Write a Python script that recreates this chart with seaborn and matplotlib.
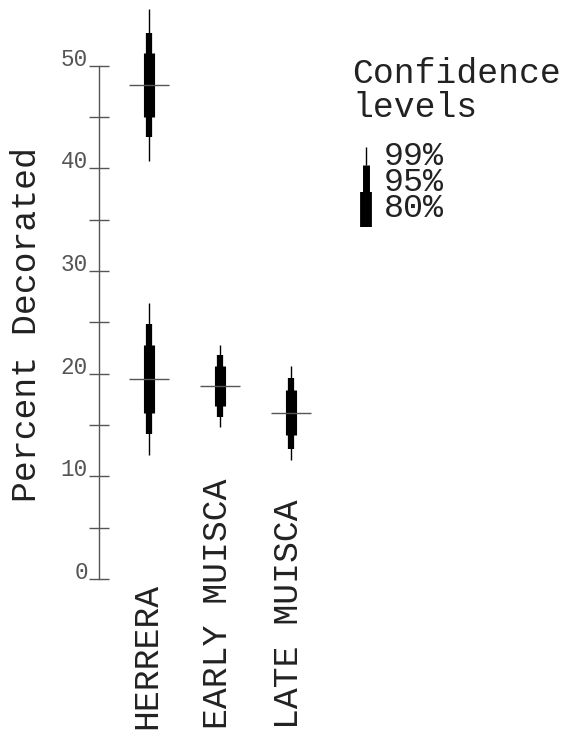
import matplotlib
matplotlib.use("Agg")
import matplotlib.pyplot as plt
import matplotlib.transforms as mtransforms
from matplotlib.lines import Line2D
import seaborn as sns
import pandas as pd

# data
categories = ["HERRERA", "EARLY MUISCA", "LATE MUISCA"]
groups = ["HERRERA", "HERRERA", "EARLY MUISCA", "LATE MUISCA"]
means = [48.1, 19.5, 18.8, 16.2]
lo99 = [40.7, 12.1, 14.8, 11.6]
hi99 = [55.5, 26.9, 22.8, 20.7]
lo95 = [43.0, 14.1, 15.8, 12.7]
hi95 = [53.2, 24.8, 21.8, 19.6]
lo80 = [45.0, 16.2, 16.8, 14.0]
hi80 = [51.2, 22.8, 20.7, 18.4]
ticks = [0, 5, 10, 15, 20, 25, 30, 35, 40, 45, 50]
tick_labels = ["0", "", "10", "", "20", "", "30", "", "40", "", "50"]
levels = ["99%", "95%", "80%"]

sns.set_style("white")
plt.rcParams["font.family"] = ["Liberation Mono", "DejaVu Sans Mono"]

W, H = 563, 734
fig = plt.figure(figsize=(W / 100, H / 100), dpi=100)
ax = fig.add_axes([78.6 / W, (H - 579) / H, 282.8 / W, 578.2 / H])

df = pd.DataFrame({"group": groups, "mean": means})
xpos = [categories.index(g) for g in groups]

gray = "#555555"
ax.vlines(xpos, lo99, hi99, color="black", linewidth=1.0, capstyle="butt")
ax.vlines(xpos, lo95, hi95, color="black", linewidth=4.5, capstyle="butt")
ax.vlines(xpos, lo80, hi80, color="black", linewidth=8.0, capstyle="butt")
sns.scatterplot(data=df, x="group", y="mean", marker="_", s=830, color=gray,
                linewidth=1.0, ax=ax, legend=False, zorder=3)

ax.set_xlim(-1.0, 3.0)
ax.set_ylim(0, 56.3)
for s in ["top", "right", "bottom"]:
    ax.spines[s].set_visible(False)
ax.spines["left"].set_position(("data", -0.707))
ax.spines["left"].set_bounds(0, 50)
ax.spines["left"].set_color(gray)
ax.spines["left"].set_linewidth(1.0)
ax.set_xticks([])
ax.set_yticks(ticks)
ax.set_yticklabels(tick_labels)
ax.tick_params(axis="y", left=True, direction="inout", length=14.4, width=1.0,
               color=gray, labelcolor=gray, labelsize=16.3, pad=1)
for lab in ax.get_yticklabels():
    lab.set_verticalalignment("baseline")
ax.set_xlabel("")
ax.set_ylabel("")

fig.text(27 / W, 1 - 325 / H, "Percent Decorated", rotation=90, fontsize=25,
         ha="center", va="center", color="#222222")

trans = mtransforms.blended_transform_factory(ax.transData, fig.transFigure)
for i, c in enumerate(categories):
    ax.text(i - 0.03, 1 - 729 / H, c, rotation=90, fontsize=25, ha="center",
            va="bottom", transform=trans, color="#222222")

# legend
fig.text(352 / W, 1 - 116.7 / H, "Confidence\nlevels", fontsize=25, va="baseline",
         linespacing=1.02, color="#222222")
fig.text(384 / W, 1 - 217.3 / H, "\n".join(levels), fontsize=24, va="baseline",
         linespacing=0.8, color="#222222")
for (y0, y1, lw) in [(146.7, 165, 1.0), (165, 191.7, 5.0), (191.7, 226.7, 8.5)]:
    fig.add_artist(Line2D([366 / W, 366 / W], [1 - y0 / H, 1 - y1 / H],
                          transform=fig.transFigure, color="black",
                          linewidth=lw, solid_capstyle="butt"))

fig.savefig("out.png", dpi=100)
